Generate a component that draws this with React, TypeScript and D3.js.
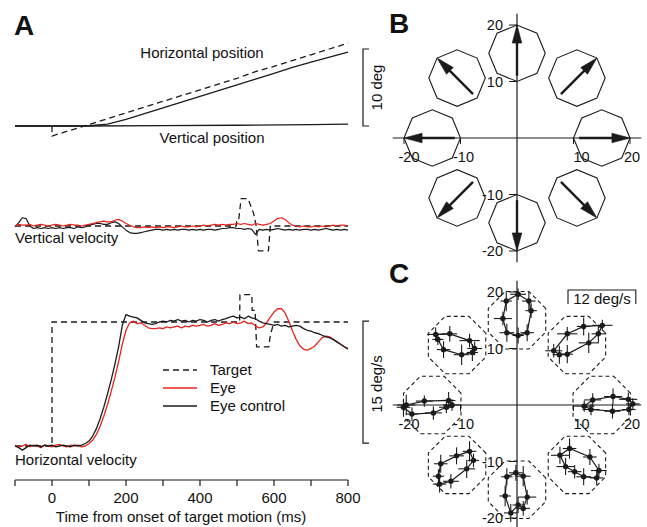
import React, { useEffect, useRef } from 'react';
import * as d3 from 'd3';

const FONT = 'Liberation Sans, Arial, Helvetica, sans-serif';
const RED = '#e8231c';
const INK = '#1b1b1b';

// ---- Panel A data (time in ms, velocity in deg/s, position in deg) ----
// eye velocity traces sampled every 10 ms from -100 to 800 ms
const sampleTimes = d3.range(-100, 801, 10);

const hVelEye = [
  0.1, -0.1, 0.0, 0.2, -0.1, 0.1, 0.0, -0.2, 0.1, 0.0,
  -0.1, 0.1, 0.2, 0.0, -0.1, 0.1, 0.0, 0.1, -0.1, 0.0,
  0.3, 0.7, 1.4, 2.4, 3.6, 5.0, 6.6, 8.3, 10.2, 12.3,
  14.0, 14.9, 15.1, 14.8, 14.9, 14.6, 14.3, 14.2, 14.2, 14.3,
  14.2, 14.4, 14.3, 14.4, 14.5, 14.3, 14.5, 14.4, 14.6, 14.5,
  14.6, 14.7, 14.5, 14.6, 14.8, 14.6, 14.7, 14.9, 14.8, 15.0,
  14.8, 14.9, 15.1, 14.8, 14.9, 14.5, 14.3, 14.4, 14.9, 15.6,
  16.2, 16.6, 16.6, 16.1, 15.1, 13.9, 12.9, 12.1, 11.7, 11.6,
  11.8, 12.1, 12.6, 13.1, 13.3, 13.2, 12.9, 12.6, 12.3, 12.0,
  11.8,
];

const hVelControl = [
  0.0, -0.2, -0.5, -0.2, 0.1, 0.0, 0.1, -0.1, 0.1, 0.0,
  0.1, -0.1, 0.0, 0.1, 0.0, -0.1, 0.1, 0.0, 0.1, 0.3,
  0.6, 1.2, 2.1, 3.3, 4.7, 6.3, 8.0, 9.9, 12.0, 14.6,
  15.9, 15.7, 15.6, 15.5, 15.2, 14.9, 14.8, 14.7, 14.8, 15.0,
  15.1, 15.0, 15.2, 15.1, 15.3, 15.1, 15.2, 15.0, 15.2, 15.1,
  15.3, 15.2, 15.0, 15.2, 15.3, 15.1, 15.3, 15.4, 15.6, 15.7,
  15.5, 15.6, 15.4, 15.7, 15.5, 15.4, 15.1, 14.9, 14.8, 14.7,
  14.6, 14.7, 14.5, 14.6, 14.4, 14.5, 14.6, 14.5, 14.2, 14.0,
  13.9, 13.7, 13.6, 13.4, 13.2, 13.1, 12.9, 12.6, 12.3, 12.0,
  11.7,
];

const vVelEye = [
  0.0, 0.2, 0.1, 0.1, 0.2, 0.0, 0.1, 0.2, 0.1, 0.0,
  0.1, 0.2, 0.1, 0.0, 0.1, 0.2, 0.1, 0.1, 0.0, 0.1,
  0.2, 0.3, 0.4, 0.5, 0.6, 0.5, 0.5, 0.7, 0.8, 0.6,
  0.3, 0.1, -0.1, -0.2, -0.2, -0.1, -0.2, -0.1, -0.2, -0.1,
  -0.2, -0.1, -0.1, -0.2, -0.1, 0.0, -0.1, -0.1, 0.0, -0.1,
  0.0, 0.1, 0.0, 0.1, 0.2, 0.1, 0.2, 0.1, 0.2, 0.2,
  0.3, 0.2, 0.3, 0.2, 0.1, 0.3, 0.2, 0.1, 0.2, 0.3,
  0.6, 0.9, 1.0, 0.8, 0.4, 0.1, 0.0, -0.1, 0.0, -0.1,
  -0.1, 0.0, -0.1, 0.0, -0.1, 0.0, 0.1, 0.0, 0.1, 0.1,
  0.0,
];

const vVelControl = [
  -0.1, 0.4, 1.0, 0.9, 0.0, -0.3, -0.2, -0.3, -0.2, -0.3,
  -0.2, -0.3, -0.2, -0.3, -0.2, -0.2, -0.3, -0.1, -0.2, -0.1,
  0.1, 0.2, 0.3, 0.3, 0.2, 0.2, 0.4, 0.5, 0.3, -0.1,
  -0.5, -0.8, -0.9, -0.9, -0.8, -0.7, -0.6, -0.5, -0.4, -0.4,
  -0.5, -0.4, -0.5, -0.4, -0.5, -0.4, -0.4, -0.5, -0.4, -0.5,
  -0.4, -0.5, -0.4, -0.4, -0.5, -0.4, -0.3, -0.3, -0.2, -0.2,
  -0.3, -0.3, -0.4, -0.3, -0.4, -1.0, -0.4, -0.5, -0.4, -0.5,
  -0.4, -0.3, -0.4, -0.5, -0.4, -0.5, -0.4, -0.5, -0.4, -0.4,
  -0.5, -0.4, -0.5, -0.4, -0.3, -0.4, -0.5, -0.4, -0.5, -0.4,
  -0.5,
];

// target velocity, [time, deg/s]
const hVelTarget: [number, number][] = [
  [-100, 0], [0, 0], [0, 15], [507, 15], [508, 18.3], [540, 18.3], [541, 16.4],
  [549, 16.4], [553, 12], [586, 12], [590, 13.4], [600, 15], [800, 15],
];
const vVelTarget: [number, number][] = [
  [-100, 0], [498, 0], [500, 0.9], [505, 0.9], [511, 3.3], [530, 3.3], [545, 1.5],
  [552, 0], [558, -3], [585, -3], [590, 0], [800, 0],
];

// positions, [time, deg]
const hPosEye: [number, number][] = [
  [-100, 0], [0, 0], [50, 0], [100, 0.03], [150, 0.25], [200, 0.85], [250, 1.6],
  [300, 2.35], [350, 3.1], [400, 3.85], [450, 4.6], [500, 5.35], [550, 6.1],
  [600, 6.85], [650, 7.6], [700, 8.3], [750, 8.95], [800, 9.6],
];
const hPosTarget: [number, number][] = [
  [0, 0], [0, -1.3], [100, 0.2], [200, 1.7], [300, 3.2], [400, 4.7], [500, 6.2],
  [550, 7.05], [600, 7.75], [700, 9.25], [800, 10.75],
];
const vPosEye: [number, number][] = [
  [-100, 0], [100, 0], [300, 0.05], [500, 0.1], [700, 0.18], [800, 0.25],
];

const timeTicks = [-100, 0, 100, 200, 300, 400, 500, 600, 700, 800];
const timeLabels = [0, 200, 400, 600, 800];

// ---- Panels B and C (deg) ----
const directions = [0, 45, 90, 135, 180, 225, 270, 315];
const axisTicks = [-20, -10, 10, 20];

// eye velocity loops: [x, y, xErr, yErr]
const loopRight = [
  [11.9, -0.2, 1.8, 1.0], [13.4, 0.9, 1.5, 1.2], [17.0, 1.5, 1.6, 1.4], [19.7, 1.0, 1.6, 1.2],
  [20.5, 0.2, 1.2, 1.0], [19.8, -0.8, 1.2, 1.0], [16.9, -1.1, 1.4, 1.3], [13.1, -0.8, 1.5, 1.0],
];
const loopUpRight = [
  [8.9, 12.6, 1.8, 1.2], [11.8, 13.9, 1.2, 1.6], [15.1, 14.1, 1.8, 1.0], [14.4, 12.6, 1.2, 1.5],
  [12.7, 11.0, 1.8, 1.8], [8.9, 9.0, 1.0, 1.6], [7.5, 8.9, 1.2, 1.6], [6.5, 9.6, 1.5, 1.2],
];
const loopUp = [
  [0.2, 19.6, 1.4, 1.0], [2.1, 18.4, 1.2, 1.6], [2.5, 16.7, 1.0, 1.3], [1.8, 12.8, 1.2, 1.5],
  [0.2, 12.3, 1.0, 1.4], [-1.8, 12.8, 1.3, 1.6], [-2.5, 15.3, 1.6, 1.2], [-1.9, 18.4, 1.0, 1.8],
];
const loopUpLeft = [
  [-14.4, 12.5, 1.5, 1.2], [-11.9, 12.6, 1.3, 1.4], [-8.4, 11.4, 1.8, 1.2], [-7.5, 10.0, 1.3, 1.2],
  [-7.9, 9.3, 1.0, 1.5], [-9.8, 8.9, 1.4, 1.8], [-13.0, 9.8, 1.2, 1.5], [-14.0, 11.6, 1.0, 1.0],
];
const loopLeft = [
  [-20.1, -0.4, 1.2, 1.4], [-18.6, -1.6, 1.0, 1.2], [-14.8, -1.4, 1.5, 1.2], [-12.5, -0.4, 1.3, 1.0],
  [-11.5, 0.0, 1.6, 1.0], [-12.1, 0.8, 1.2, 1.5], [-16.4, 0.7, 1.5, 1.0], [-19.6, 0.0, 1.6, 1.8],
];
const loopDownLeft = [
  [-13.5, -10.4, 1.2, 1.6], [-10.7, -9.0, 1.3, 1.5], [-8.4, -8.2, 1.2, 1.8], [-7.7, -9.8, 1.0, 1.2],
  [-8.9, -11.3, 1.5, 1.6], [-11.7, -13.5, 1.4, 1.3], [-13.7, -14.0, 1.2, 1.5], [-13.9, -12.6, 1.0, 1.2],
];
const loopDown = [
  [-0.2, -12.0, 1.2, 1.4], [1.1, -12.6, 1.3, 1.8], [1.8, -16.3, 1.6, 1.3], [1.1, -18.3, 1.2, 1.3],
  [0.2, -17.7, 1.0, 1.4], [-1.1, -19.1, 1.2, 1.6], [-2.1, -16.1, 1.0, 1.8], [-1.8, -12.7, 1.0, 1.5],
];
const loopDownRight = [
  [7.6, -8.9, 1.6, 1.5], [9.3, -7.7, 1.2, 1.8], [12.9, -9.2, 1.2, 1.4], [14.5, -11.6, 1.4, 1.2],
  [14.1, -12.9, 1.2, 1.3], [11.8, -12.7, 1.3, 1.5], [10.2, -11.8, 1.2, 1.2], [8.6, -10.9, 1.6, 1.5],
];
const loops = [loopRight, loopUpRight, loopUp, loopUpLeft, loopLeft, loopDownLeft, loopDown, loopDownRight];

const App = () => {
  const svgRef = useRef(null);

  useEffect(() => {
    if (!svgRef.current) return;
    const svg = d3.select(svgRef.current);
    svg.selectAll('*').remove();
    const g = svg.append('g').style('font-family', FONT);

    const text = (x, y, s, size = 15, anchor = 'start', weight = 'normal') =>
      g.append('text')
        .attr('x', x).attr('y', y)
        .attr('font-size', size)
        .attr('font-weight', weight)
        .attr('text-anchor', anchor)
        .attr('fill', '#111')
        .text(s);

    // ================= Panel A =================
    const xT = d3.scaleLinear().domain([-100, 800]).range([15, 348]);
    const yPos = d3.scaleLinear().domain([0, 10]).range([126, 49]);
    const yVV = d3.scaleLinear().domain([0, 15]).range([226, 102]);
    const yHV = d3.scaleLinear().domain([0, 15]).range([446, 322]);

    const withTime = (vals: number[]) => vals.map((v, i) => [sampleTimes[i], v] as [number, number]);

    const trace = (pts, ys, color, dash = null, w = 1.3) => {
      const line = d3.line<[number, number]>().x((d) => xT(d[0])).y((d) => ys(d[1]));
      g.append('path')
        .attr('d', line(pts))
        .attr('fill', 'none')
        .attr('stroke', color)
        .attr('stroke-width', w)
        .attr('stroke-linejoin', 'round')
        .attr('stroke-dasharray', dash);
    };

    // position traces
    trace(vPosEye, yPos, INK);
    trace(hPosEye, yPos, INK);
    trace(hPosTarget, yPos, INK, '6,4');

    // vertical velocity
    trace(vVelTarget, yVV, INK, '6,4');
    trace(withTime(vVelControl), yVV, INK, null, 1.2);
    trace(withTime(vVelEye), yVV, RED, null, 1.2);

    // horizontal velocity
    trace(hVelTarget, yHV, INK, '6,4');
    trace(withTime(hVelEye), yHV, RED, null, 1.3);
    trace(withTime(hVelControl), yHV, INK, null, 1.3);

    // scale bars
    const bar = (x, y1, y2) =>
      g.append('path')
        .attr('d', `M${x + 6},${y1}H${x}V${y2}H${x + 6}`)
        .attr('fill', 'none')
        .attr('stroke', INK)
        .attr('stroke-width', 1.2);
    bar(363, yPos(10), yPos(0));
    bar(363, yHV(15.1), yHV(0.35));
    g.append('text')
      .attr('transform', `translate(382,${(yPos(10) + yPos(0)) / 2}) rotate(-90)`)
      .attr('text-anchor', 'middle').attr('font-size', 15).attr('fill', '#111')
      .text('10 deg');
    g.append('text')
      .attr('transform', `translate(382,${(yHV(15) + yHV(0)) / 2}) rotate(-90)`)
      .attr('text-anchor', 'middle').attr('font-size', 15).attr('fill', '#111')
      .text('15 deg/s');

    // labels
    text(202, 58, 'Horizontal position', 15, 'middle');
    text(212, 143, 'Vertical position', 15, 'middle');
    text(15, 243, 'Vertical velocity');
    text(15, 465, 'Horizontal velocity');

    // legend
    const legend = [
      { name: 'Target', color: INK, dash: '6,4' },
      { name: 'Eye', color: RED, dash: null },
      { name: 'Eye control', color: INK, dash: null },
    ];
    legend.forEach((d, i) => {
      const y = 370 + i * 18;
      g.append('line')
        .attr('x1', 163).attr('x2', 197).attr('y1', y).attr('y2', y)
        .attr('stroke', d.color).attr('stroke-width', 1.4)
        .attr('stroke-dasharray', d.dash);
      text(210, y + 5, d.name);
    });

    // time axis
    const axisY = 480;
    g.append('line')
      .attr('x1', xT(-100)).attr('x2', xT(800)).attr('y1', axisY).attr('y2', axisY)
      .attr('stroke', INK).attr('stroke-width', 1.2);
    timeTicks.forEach((t) => {
      g.append('line')
        .attr('x1', xT(t)).attr('x2', xT(t)).attr('y1', axisY).attr('y2', axisY + 6)
        .attr('stroke', INK).attr('stroke-width', 1.2);
    });
    timeLabels.forEach((t) => text(xT(t), 503, String(t), 15, 'middle'));
    text(181, 522, 'Time from onset of target motion (ms)', 15, 'middle');

    // panel letters
    text(14, 35, 'A', 28, 'start', 'bold');
    text(389, 33, 'B', 28, 'start', 'bold');
    text(389, 283, 'C', 28, 'start', 'bold');

    // ================= Panels B and C: shared polar axes =================
    const k = 5.65;
    const cx = 517;
    const xP = d3.scaleLinear().domain([-22, 22]).range([cx - 22 * k, cx + 22 * k]);
    const makeY = (cy) => d3.scaleLinear().domain([-22, 22]).range([cy + 22 * k, cy - 22 * k]);
    const yB = makeY(138);
    const yC = makeY(405);

    const hLabelShift = { '-20': 5, '-10': 3, '10': 8, '20': 2 };

    const drawAxes = (ys) => {
      g.append('line')
        .attr('x1', xP(-22)).attr('x2', xP(22)).attr('y1', ys(0)).attr('y2', ys(0))
        .attr('stroke', INK).attr('stroke-width', 1.2);
      g.append('line')
        .attr('x1', xP(0)).attr('x2', xP(0)).attr('y1', ys(22)).attr('y2', ys(-22))
        .attr('stroke', INK).attr('stroke-width', 1.2);
      axisTicks.forEach((v) => {
        // vertical axis ticks (to the left)
        g.append('line')
          .attr('x1', xP(0) - 8).attr('x2', xP(0)).attr('y1', ys(v)).attr('y2', ys(v))
          .attr('stroke', INK).attr('stroke-width', 1);
        text(xP(0) - 14, ys(v) + 5, String(v), 14.5, 'end');
        // horizontal axis ticks (down)
        g.append('line')
          .attr('x1', xP(v)).attr('x2', xP(v)).attr('y1', ys(0)).attr('y2', ys(0) + 6)
          .attr('stroke', INK).attr('stroke-width', 1);
        text(xP(v) + hLabelShift[String(v)], ys(0) + 24, String(v), 14.5, 'middle');
      });
    };

    const octagon = (ys, dir, r, rot) => {
      const rad = (dir * Math.PI) / 180;
      const ox = 15 * Math.cos(rad);
      const oy = 15 * Math.sin(rad);
      return d3.range(8).map((i) => {
        const a = ((i * 45 + rot) * Math.PI) / 180;
        return [xP(ox + r * Math.cos(a)), ys(oy + r * Math.sin(a))] as [number, number];
      });
    };
    const closed = d3.line().curve(d3.curveLinearClosed);

    // ----- Panel B -----
    drawAxes(yB);
    directions.forEach((dir) => {
      g.append('path')
        .attr('d', closed(octagon(yB, dir, 5, 0)))
        .attr('fill', 'none').attr('stroke', INK).attr('stroke-width', 1.1);
      const rad = (dir * Math.PI) / 180;
      const ux = Math.cos(rad);
      const uy = Math.sin(rad);
      const head = 3.2;
      const hw = 0.85;
      g.append('line')
        .attr('x1', xP(11 * ux)).attr('y1', yB(11 * uy))
        .attr('x2', xP((20 - head + 0.3) * ux)).attr('y2', yB((20 - head + 0.3) * uy))
        .attr('stroke', INK).attr('stroke-width', 2.4);
      const tip = [xP(20 * ux), yB(20 * uy)];
      const bx = (20 - head) * ux;
      const by = (20 - head) * uy;
      const p1 = [xP(bx - hw * uy), yB(by + hw * ux)];
      const p2 = [xP(bx + hw * uy), yB(by - hw * ux)];
      g.append('path')
        .attr('d', `M${tip[0]},${tip[1]}L${p1[0]},${p1[1]}L${p2[0]},${p2[1]}Z`)
        .attr('fill', INK).attr('stroke', INK).attr('stroke-width', 0.6);
    });

    // ----- Panel C -----
    drawAxes(yC);
    directions.forEach((dir) => {
      g.append('path')
        .attr('d', closed(octagon(yC, dir, 5.5, 22.5)))
        .attr('fill', 'none').attr('stroke', INK).attr('stroke-width', 1.1)
        .attr('stroke-dasharray', '4,3');
    });
    loops.forEach((loop) => {
      const pts = loop.map((d) => [xP(d[0]), yC(d[1])] as [number, number]);
      g.append('path')
        .attr('d', closed(pts))
        .attr('fill', 'none').attr('stroke', INK).attr('stroke-width', 1.2);
      loop.forEach((d) => {
        g.append('line')
          .attr('x1', xP(d[0] - d[2])).attr('x2', xP(d[0] + d[2]))
          .attr('y1', yC(d[1])).attr('y2', yC(d[1]))
          .attr('stroke', INK).attr('stroke-width', 1.1);
        g.append('line')
          .attr('x1', xP(d[0])).attr('x2', xP(d[0]))
          .attr('y1', yC(d[1] - d[3])).attr('y2', yC(d[1] + d[3]))
          .attr('stroke', INK).attr('stroke-width', 1.1);
        g.append('circle')
          .attr('cx', xP(d[0])).attr('cy', yC(d[1])).attr('r', 2.7)
          .attr('fill', INK);
      });
    });

    // 12 deg/s scale bar
    const sx = 568;
    const sw = xP(12) - xP(0);
    g.append('path')
      .attr('d', `M${sx},304V290H${sx + sw}V304`)
      .attr('fill', 'none').attr('stroke', INK).attr('stroke-width', 1.1);
    text(sx + sw / 2, 304, '12 deg/s', 15, 'middle');

    return () => {
      svg.selectAll('*').remove();
    };
  }, []);

  return (
    <svg
      ref={svgRef}
      width={647}
      height={527}
      style={{ position: 'absolute', left: 0, top: 0, background: '#fff' }}
    />
  );
};

export default App;
